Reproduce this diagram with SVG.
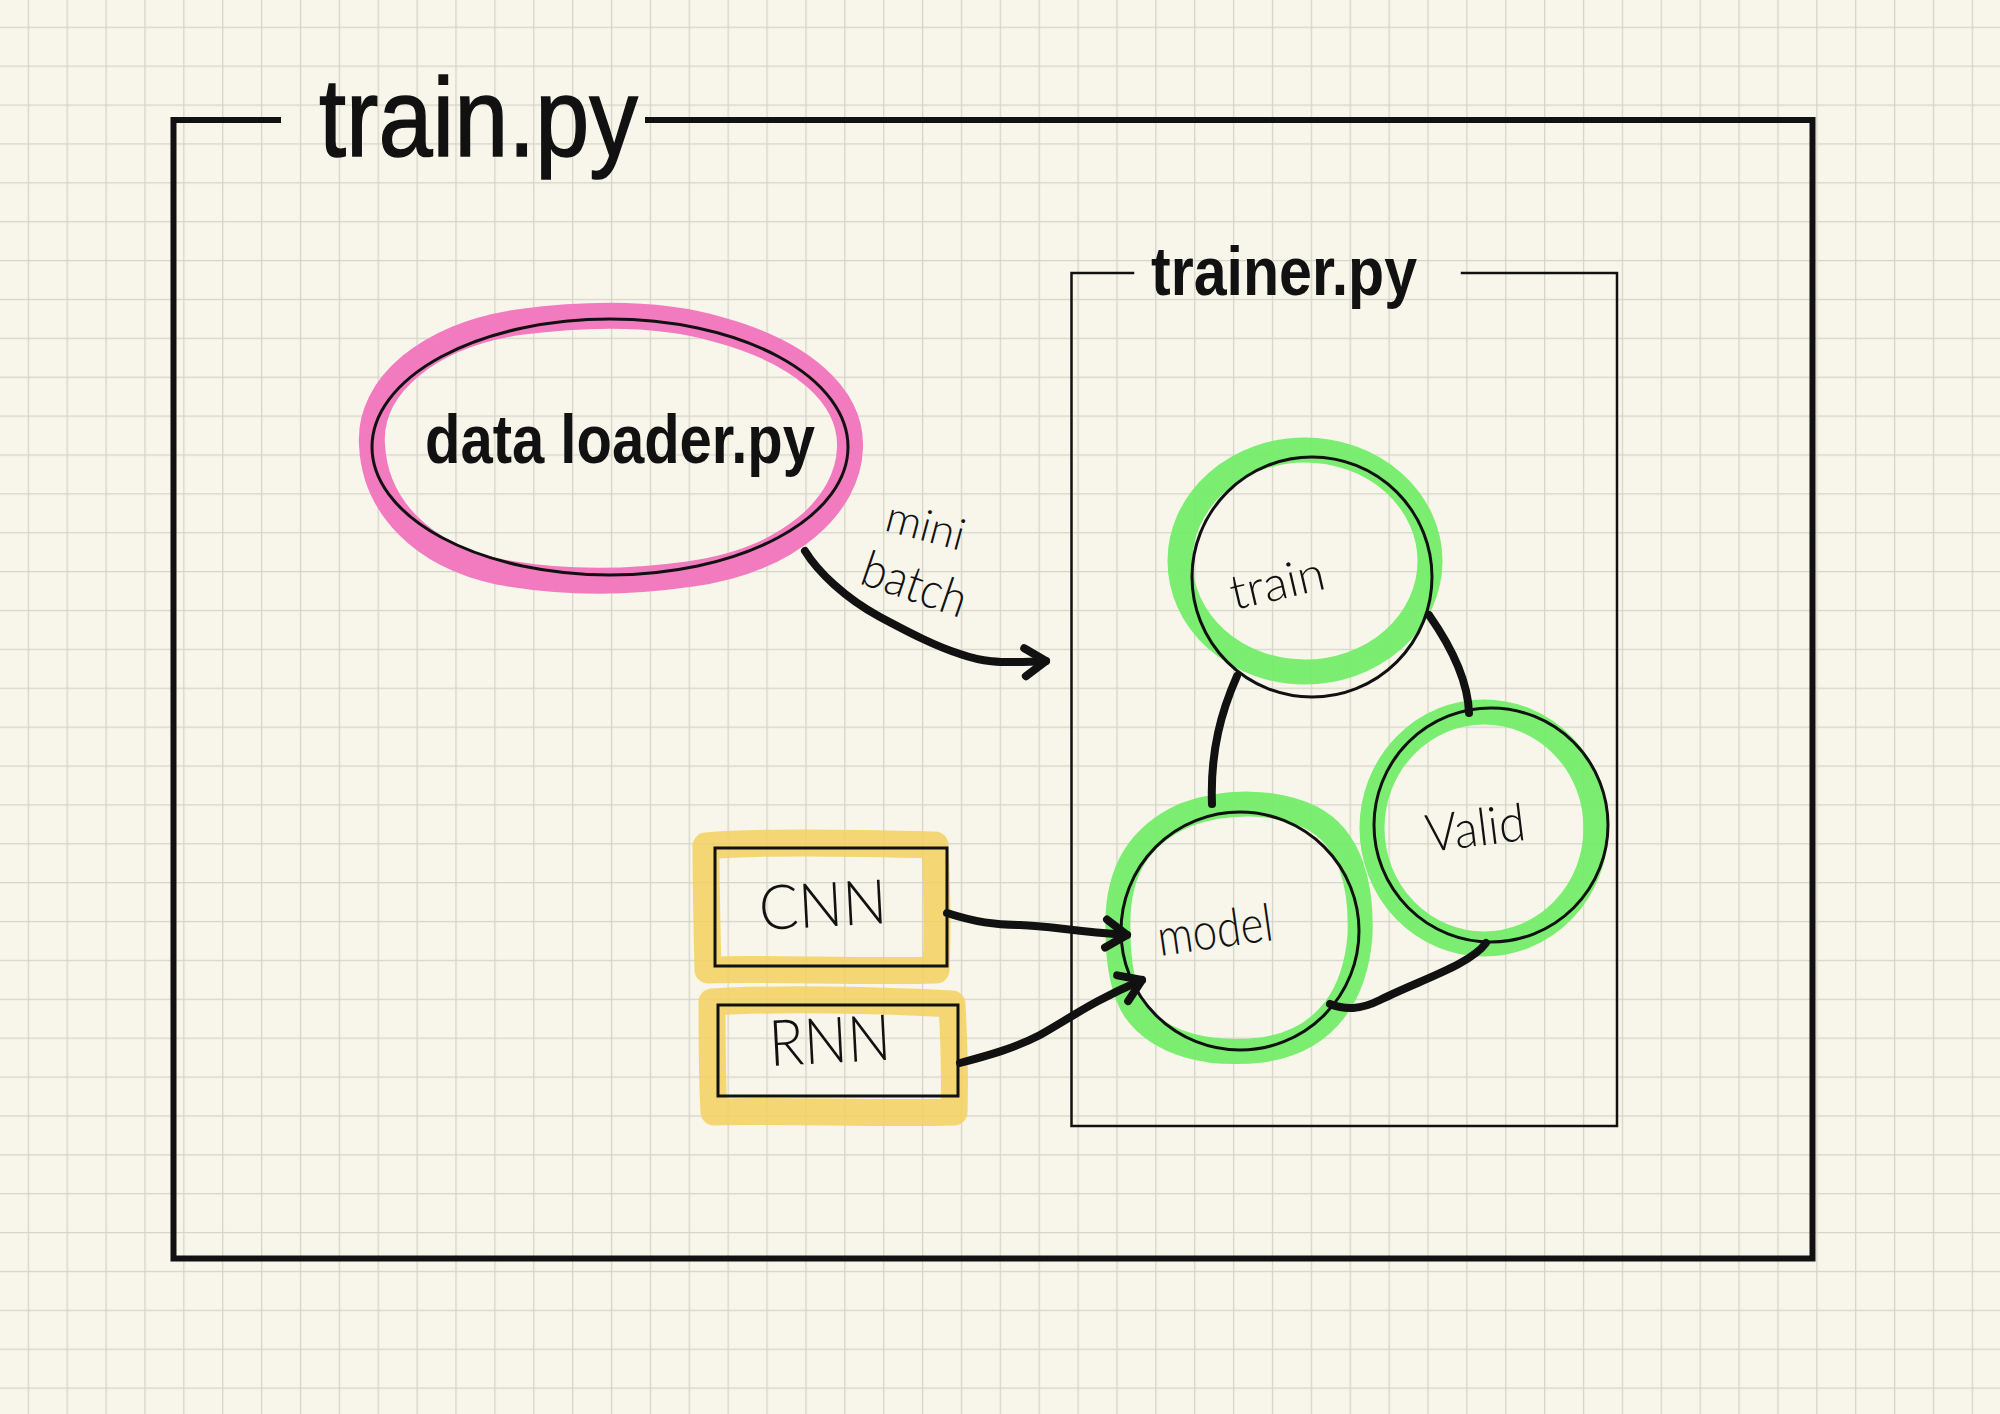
<svg xmlns="http://www.w3.org/2000/svg" width="2000" height="1414" viewBox="0 0 2000 1414">
  <defs>
    <pattern id="grid" patternUnits="userSpaceOnUse" x="27.7" y="26.7" width="38.88" height="38.88">
      <path d="M0.6 0 V38.88 M0 0.6 H38.88" fill="none" stroke="#D3D5C6" stroke-width="1.4"/>
    </pattern>
    <marker id="chev" viewBox="0 0 40 40" refX="31" refY="20" markerWidth="40" markerHeight="40" markerUnits="userSpaceOnUse" orient="auto">
      <path d="M10 6 L31 20 L10 34" fill="none" stroke="#111" stroke-width="8" stroke-linecap="round" stroke-linejoin="round"/>
    </marker>
    <style>
      .frame { fill: none; stroke: #111; stroke-linecap: square; }
      .pink { fill: none; stroke: #F27BBF; stroke-width: 26; stroke-linejoin: round; }
      .green { fill: none; stroke: #74EC6A; stroke-width: 25; opacity: 0.95; }
      .yellow { fill: none; stroke: #F4D060; stroke-width: 27; opacity: 0.85; stroke-linejoin: round; }
      .ink { fill: none; stroke: #111; stroke-width: 3; }
      .conn { fill: none; stroke: #111; stroke-width: 8; stroke-linecap: round; stroke-linejoin: round; }
      .title { font-family: "Liberation Sans", Arial, sans-serif; fill: #111; }
      .hand { font-family: Lato, "Liberation Sans", Arial, sans-serif; font-weight: 300; fill: #111; }
    </style>
  </defs>

  <rect width="2000" height="1414" fill="#F8F6EA"/>
  <rect width="2000" height="1414" fill="url(#grid)"/>

  <g id="train-py">
    <path class="frame" stroke-width="6" d="M278 120 H173.5 V1258.5 H1812.5 V120 H648"/>
    <text class="title" x="319" y="156" font-size="112" textLength="319" lengthAdjust="spacingAndGlyphs" stroke="#111" stroke-width="1.5">train.py</text>
  </g>

  <g id="trainer-py">
    <path class="frame" stroke-width="2.5" d="M1133 273 H1071.5 V1126 H1617 V273 H1462"/>
    <text class="title" x="1151" y="295" font-size="68" font-weight="bold" textLength="266" lengthAdjust="spacingAndGlyphs">trainer.py</text>
  </g>

  <g id="data-loader">
    <path class="pink" d="M372 445 C368 385, 430 335, 520 322 C590 313, 660 312, 720 330 C800 352, 852 395, 850 448 C848 505, 790 560, 690 574 C620 584, 560 583, 500 572 C420 555, 375 505, 372 445 Z"/>
    <ellipse class="ink" cx="610" cy="447" rx="238" ry="128"/>
    <text class="title" x="425" y="463" font-size="68" font-weight="bold" textLength="390" lengthAdjust="spacingAndGlyphs">data loader.py</text>
  </g>

  <g id="train">
    <ellipse class="green" cx="1305" cy="561" rx="125" ry="111"/>
    <circle class="ink" cx="1312" cy="577" r="120"/>
    <text class="hand" x="1234" y="610" font-size="48" textLength="96" lengthAdjust="spacingAndGlyphs" transform="rotate(-13 1234 610)">train</text>
  </g>

  <g id="valid">
    <ellipse class="green" cx="1484" cy="828" rx="112" ry="116"/>
    <circle class="ink" cx="1491" cy="825" r="117"/>
    <text class="hand" x="1428" y="852" font-size="52" textLength="100" lengthAdjust="spacingAndGlyphs" transform="rotate(-7 1428 852)">Valid</text>
  </g>

  <g id="model">
    <path class="green" d="M1118 930 C1116 870, 1140 835, 1185 815 C1225 800, 1275 800, 1312 818 C1350 838, 1362 885, 1360 935 C1356 990, 1330 1040, 1262 1050 C1210 1056, 1160 1045, 1135 1010 C1122 990, 1118 960, 1118 930 Z"/>
    <circle class="ink" cx="1240" cy="931" r="119"/>
    <text class="hand" x="1160" y="956" font-size="52" textLength="116" lengthAdjust="spacingAndGlyphs" transform="rotate(-8 1160 956)">model</text>
  </g>

  <g id="cnn">
    <path class="yellow" d="M706 846 C760 841, 860 843, 935 845 C937 890, 938 930, 936 970 C860 972, 770 968, 708 970 C707 930, 706 890, 706 846 Z"/>
    <rect class="ink" x="715" y="848" width="232" height="118"/>
    <text class="hand" x="760" y="930" font-size="62" textLength="128" lengthAdjust="spacingAndGlyphs" transform="rotate(-3 760 930)">CNN</text>
  </g>

  <g id="rnn">
    <path class="yellow" d="M712 1002 C780 998, 880 1000, 952 1004 C954 1040, 955 1080, 954 1112 C880 1114, 780 1110, 714 1112 C712 1080, 712 1040, 712 1002 Z"/>
    <rect class="ink" x="718" y="1005" width="240" height="91"/>
    <text class="hand" x="770" y="1066" font-size="64" textLength="122" lengthAdjust="spacingAndGlyphs" transform="rotate(-3 770 1066)">RNN</text>
  </g>

  <g id="connectors">
    <path class="conn" marker-end="url(#chev)" d="M805 551 C818 572, 845 598, 880 617 C910 633, 935 646, 960 654 C980 661, 995 664, 1046 661"/>
    <path class="conn" marker-end="url(#chev)" d="M947 913 C975 922, 995 925, 1020 925 C1050 926, 1070 931, 1127 935"/>
    <path class="conn" marker-end="url(#chev)" d="M960 1063 C990 1055, 1015 1048, 1040 1035 C1070 1018, 1095 1000, 1142 980"/>
    <path class="conn" d="M1237 676 C1222 710, 1210 750, 1212 804"/>
    <path class="conn" d="M1429 615 C1450 645, 1468 680, 1469 713"/>
    <path class="conn" d="M1486 943 C1470 965, 1420 980, 1380 1000 C1360 1010, 1345 1010, 1330 1004"/>
    <text class="hand" x="883" y="530" font-size="44" textLength="80" lengthAdjust="spacingAndGlyphs" transform="rotate(15 883 530)">mini</text>
    <text class="hand" x="858" y="583" font-size="50" textLength="108" lengthAdjust="spacingAndGlyphs" transform="rotate(19 858 583)">batch</text>
  </g>
</svg>
